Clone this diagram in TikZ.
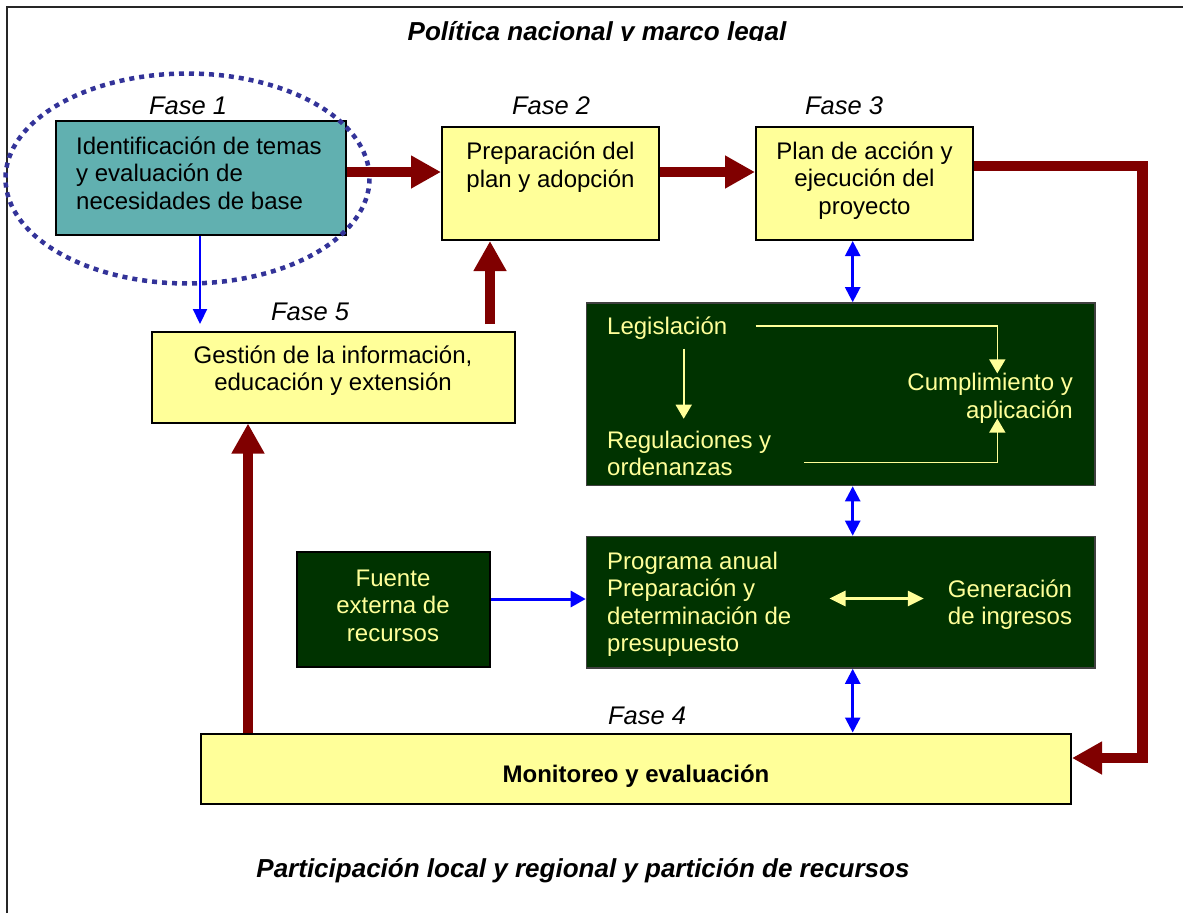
\documentclass[tikz,border=0pt]{standalone}
\usepackage{fontspec}
\setmainfont{Liberation Sans}
\usetikzlibrary{arrows.meta,calc}
\definecolor{tealfill}{RGB}{97,176,176}
\definecolor{yelfill}{RGB}{255,255,153}
\definecolor{dgreen}{RGB}{0,51,0}
\definecolor{dred}{RGB}{128,0,0}
\definecolor{eblue}{RGB}{51,51,153}
\definecolor{ytext}{RGB}{255,255,153}
\definecolor{pblue}{RGB}{0,0,255}
\newcommand\myfnt{\fontsize{24}{27.5}\selectfont}
\newcommand\myfase{\fontsize{25.5}{28}\selectfont\itshape}
\newcommand\myttl{\fontsize{26}{30}\selectfont\bfseries\itshape}
\begin{document}
\begin{tikzpicture}[x=1pt,y=-1pt,
  anybox/.style={rectangle, inner sep=0pt, line width=2pt},
  yelbox/.style={anybox, draw=black, fill=yelfill},
  tealbox/.style={anybox, draw=black, fill=tealfill},
  greenbox/.style={anybox, draw=black!75, line width=1.6pt, fill=dgreen},
  txt/.style={inner sep=0pt, font=\myfnt, text=black},
  gtxt/.style={inner sep=0pt, font=\myfnt, text=ytext},
  faselbl/.style={inner sep=0pt, font=\myfase},
  ttl/.style={inner sep=0pt, font=\myttl},
  bigarrow/.style={draw=dred, line width=10.5pt, line join=miter, -{Triangle[width=31pt,length=30pt]}},
  bluearrow/.style={draw=pblue, line width=2.2pt, -{Triangle[width=14pt,length=15pt]}},
  bluedouble/.style={draw=pblue, line width=2.5pt, {Triangle[width=15pt,length=15pt]}-{Triangle[width=15pt,length=15pt]}},
  yarrow/.style={draw=ytext, line width=1.6pt, -{Triangle[width=16pt,length=14pt]}},
  ydouble/.style={draw=ytext, line width=2.8pt, {Triangle[width=15pt,length=16pt]}-{Triangle[width=15pt,length=16pt]}},
  dotring/.style={draw=eblue, line width=4.5pt, dash pattern=on 5pt off 5pt}
]
\useasboundingbox (0,0) rectangle (1183,913);
\fill[white] (0,0) rectangle (1183,913);

% outer frame (top and left edges visible)
\draw[line width=2pt, black!85] (7,913) -- (7,7) -- (1183,7);

% titles
\begin{scope}
  \clip (0,0) rectangle (1183,40.5);
  \node[ttl] (toptitle) at (597,34) {Política nacional y marco legal};
\end{scope}
\node[ttl] (bottitle) at (583,871) {Participación local y regional y partición de recursos};

% boxes
\node[tealbox, minimum width=290.5pt, minimum height=114pt] (f1) at (200.75,178) {};
\node[yelbox, minimum width=217pt, minimum height=113pt] (f2) at (550.5,183.5) {};
\node[yelbox, minimum width=217pt, minimum height=113pt] (f3) at (864.5,183.5) {};
\node[yelbox, minimum width=363pt, minimum height=90.5pt] (f5) at (333.5,377.25) {};
\node[greenbox, minimum width=508.5pt, minimum height=182.5pt] (g1) at (840.75,394.25) {};
\node[greenbox, minimum width=508.5pt, minimum height=131.5pt] (g2) at (840.75,602.25) {};
\node[greenbox, draw=black, line width=2pt, minimum width=193pt, minimum height=115pt] (fu) at (393.5,609.5) {};
\node[yelbox, minimum width=870.5pt, minimum height=70pt] (f4) at (635.75,768.5) {};

% dotted ellipse round Fase 1
\draw[dotring] (187.5,178.5) ellipse [x radius=182, y radius=105];

% box texts
\node[txt, anchor=west, align=left] (f1t) at (76,173) {Identificación de temas\\y evaluación de\\necesidades de base};
\node[txt, align=center] (f2t) at (550.5,167) {Preparación del\\plan y adopción};
\node[txt, align=center] (f3t) at (864.5,180.5) {Plan de acción y\\ejecución del\\proyecto};
\node[txt, align=center] (f5t) at (333,370.5) {Gestión de la información,\\educación y extensión};
\node[txt, font=\myfnt\bfseries] (f4t) at (636,776) {Monitoreo y evaluación};
\node[gtxt, align=center] (fut) at (393,605.5) {Fuente\\externa de\\recursos};

\node[gtxt, anchor=west] (leg) at (607,328) {Legislación};
\node[gtxt, anchor=west, align=left] (reg) at (607,453.5) {Regulaciones y\\ordenanzas};
\node[gtxt, anchor=east, align=right] (cum) at (1073,398.5) {Cumplimiento y\\aplicación};
\node[gtxt, anchor=west, align=left] (prog) at (607,604.5) {Programa anual\\Preparación y\\determinación de\\presupuesto};
\node[gtxt, align=center] (gen) at (1010,604.5) {Generación\\de ingresos};

% phase labels
\node[faselbl] (l1) at (188,105.5) {Fase 1};
\node[faselbl] (l2) at (551,105.5) {Fase 2};
\node[faselbl] (l3) at (844,105.5) {Fase 3};
\node[faselbl] (l5) at (310,311.5) {Fase 5};
\node[faselbl] (l4) at (647,715.5) {Fase 4};

% thick red connectors
\coordinate (s12) at ($(f1.east)+(0,-6)$);
\draw[bigarrow] (s12) -- (s12 -| f2.west);
\coordinate (s23) at ($(f2.east)+(0,-11.5)$);
\draw[bigarrow] (s23) -- (s23 -| f3.west);
\coordinate (s34) at ($(f3.east)+(0,-17.5)$);
\coordinate (c34) at (1142.5,0);
\coordinate (e34) at ($(f4.east)+(0,-10.5)$);
\draw[bigarrow] (s34) -- (s34 -| c34) -- (c34 |- e34) -- (e34);
\coordinate (x52) at (490,0);
\draw[bigarrow, shorten <=7pt] (f5.north -| x52) -- (f2.south -| x52);
\coordinate (x45) at (248,0);
\draw[bigarrow] (f4.north -| x45) -- (f5.south -| x45);

% blue connectors
\coordinate (x15) at (200,0);
\draw[bluearrow, shorten >=7pt] (f1.south -| x15) -- (f5.north -| x15);
\coordinate (xb) at (852.7,0);
\draw[bluedouble] (f3.south -| xb) -- (g1.north -| xb);
\draw[bluedouble] (g1.south -| xb) -- (g2.north -| xb);
\draw[bluedouble] (g2.south -| xb) -- (f4.north -| xb);
\coordinate (sfu) at ($(fu.east)+(0,-10.5)$);
\draw[bluearrow, line width=3pt, -{Triangle[width=16pt,length=15pt]}] (sfu) -- (sfu -| g2.west);

% yellow connectors inside the green boxes
\coordinate (xl) at (683.7,0);
\draw[yarrow, shorten <=9pt, shorten >=12pt] (leg.south -| xl) -- (reg.north -| xl);
\coordinate (yc) at (997.3,0);
\coordinate (legr) at (755.7,325.7);
\draw[yarrow] (legr) -| (cum.north -| yc);
\coordinate (regr) at (804,462.3);
\draw[yarrow, shorten >=-5pt] (regr) -| (cum.south -| yc);
\draw[ydouble, shorten <=38pt, shorten >=24pt] ($(prog.east)+(0,-6)$) -- ($(gen.west)+(0,-6)$);
\end{tikzpicture}
\end{document}
